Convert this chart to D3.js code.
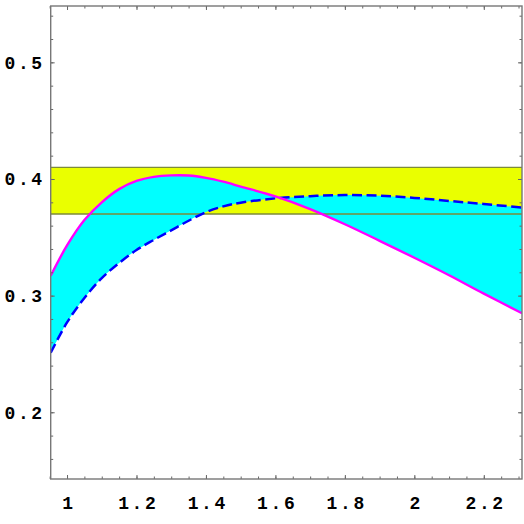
<!DOCTYPE html>
<html>
<head>
<meta charset="utf-8">
<script src="https://cdn.jsdelivr.net/npm/d3@7"></script>
<style>
  body { margin: 0; background: #fff; }
  svg { display: block; }
</style>
</head>
<body>
<div id="chart"></div>
<script>
// values
const xs = [0.953, 1.0, 1.05, 1.1, 1.15, 1.2, 1.25, 1.3, 1.35, 1.4, 1.45, 1.5, 1.6, 1.7, 1.8, 1.9, 2.0, 2.1, 2.2, 2.31];
const solidCurve = [0.317, 0.343, 0.3648, 0.380, 0.3913, 0.3983, 0.4018, 0.4031, 0.403, 0.401, 0.3977, 0.3935, 0.385, 0.3742, 0.3612, 0.347, 0.3325, 0.3175, 0.3017, 0.2849];
const dashedCurve = [0.251, 0.277, 0.298, 0.315, 0.328, 0.3391, 0.3478, 0.356, 0.3642, 0.3716, 0.3765, 0.3797, 0.3834, 0.3853, 0.3862, 0.3857, 0.3838, 0.3812, 0.3786, 0.3755];
const band = [0.37, 0.41];

const xTicks = [1, 1.2, 1.4, 1.6, 1.8, 2, 2.2];
const xMinor = d3.range(0.95, 2.31, 0.05);
const yTicks = [0.2, 0.3, 0.4, 0.5];
const yMinor = d3.range(0.16, 0.55, 0.02);

const createGraph = () => {
  const width = 524;
  const height = 524;
  const left = 50.7, right = 522, top = 6, bottom = 479;

  const x = d3.scaleLinear().domain([0.953, 2.31]).range([left, right]);
  const y = d3.scaleLinear().domain([0.1428, 0.5483]).range([bottom, top]);

  const svg = d3.select('#chart').append('svg')
    .attr('width', width)
    .attr('height', height);

  svg.append('clipPath').attr('id', 'clip')
    .append('rect')
    .attr('x', left).attr('y', top)
    .attr('width', right - left).attr('height', bottom - top);

  const plot = svg.append('g').attr('clip-path', 'url(#clip)');

  // yellow band
  plot.append('rect')
    .attr('x', left).attr('width', right - left)
    .attr('y', y(band[1])).attr('height', y(band[0]) - y(band[1]))
    .style('fill', '#eaff00');

  const data = xs.map((v, i) => ({ x: v, a: solidCurve[i], b: dashedCurve[i] }));

  // cyan region between the curves
  const area = d3.area()
    .x(d => x(d.x))
    .y0(d => y(d.b))
    .y1(d => y(d.a))
    .curve(d3.curveCatmullRom.alpha(0.5));

  plot.append('path')
    .datum(data)
    .attr('d', area)
    .style('fill', '#00ffff');

  // band edges
  plot.selectAll('.band-line')
    .data(band)
    .enter().append('line')
    .attr('class', 'band-line')
    .attr('x1', left).attr('x2', right)
    .attr('y1', d => y(d)).attr('y2', d => y(d))
    .style('stroke', '#7d8a3a')
    .style('stroke-width', 1.3);

  const line = key => d3.line()
    .x(d => x(d.x))
    .y(d => y(d[key]))
    .curve(d3.curveCatmullRom.alpha(0.5));

  plot.append('path')
    .datum(data)
    .attr('d', line('b'))
    .style('fill', 'none')
    .style('stroke', '#0000ff')
    .style('stroke-width', 2.5)
    .style('stroke-dasharray', '10,4.5');

  plot.append('path')
    .datum(data)
    .attr('d', line('a'))
    .style('fill', 'none')
    .style('stroke', '#ff00ff')
    .style('stroke-width', 2.4);

  // frame ticks on all sides, pointing inward
  const tickStyle = g => {
    g.select('.domain').remove();
    g.selectAll('line').style('stroke', '#666').style('stroke-width', 1);
  };
  const noLabel = () => '';

  svg.append('g').attr('transform', `translate(0,${bottom})`)
    .call(d3.axisBottom(x).tickValues(xMinor).tickSize(-2.5).tickFormat(noLabel))
    .call(tickStyle);
  svg.append('g').attr('transform', `translate(0,${top})`)
    .call(d3.axisTop(x).tickValues(xMinor).tickSize(-2.5).tickFormat(noLabel))
    .call(tickStyle);
  svg.append('g').attr('transform', `translate(${left},0)`)
    .call(d3.axisLeft(y).tickValues(yMinor).tickSize(-2.5).tickFormat(noLabel))
    .call(tickStyle);
  svg.append('g').attr('transform', `translate(${right},0)`)
    .call(d3.axisRight(y).tickValues(yMinor).tickSize(-2.5).tickFormat(noLabel))
    .call(tickStyle);

  svg.append('g').attr('transform', `translate(0,${top})`)
    .call(d3.axisTop(x).tickValues(xTicks).tickSize(-4).tickFormat(noLabel))
    .call(tickStyle);
  svg.append('g').attr('transform', `translate(${right},0)`)
    .call(d3.axisRight(y).tickValues(yTicks).tickSize(-4).tickFormat(noLabel))
    .call(tickStyle);

  const xAxis = svg.append('g').attr('transform', `translate(0,${bottom})`)
    .call(d3.axisBottom(x).tickValues(xTicks).tickSize(-4).tickPadding(17).tickFormat(d3.format('')))
    .call(tickStyle);
  const yAxis = svg.append('g').attr('transform', `translate(${left},0)`)
    .call(d3.axisLeft(y).tickValues(yTicks).tickSize(-4).tickPadding(6).tickFormat(d3.format('.1f')))
    .call(tickStyle);

  [xAxis, yAxis].forEach(g => g.selectAll('text')
    .style('font-family', '"Liberation Mono", "DejaVu Sans Mono", monospace')
    .style('font-weight', 'bold')
    .style('font-size', '18px')
    .style('letter-spacing', '2.6px')
    .style('fill', '#000'));
  xAxis.selectAll('text').attr('dx', '1.3px');

  // frame
  svg.append('rect')
    .attr('x', left).attr('y', top)
    .attr('width', right - left).attr('height', bottom - top)
    .style('fill', 'none')
    .style('stroke', '#777')
    .style('stroke-width', 1.4);
};

createGraph();
</script>
</body>
</html>
